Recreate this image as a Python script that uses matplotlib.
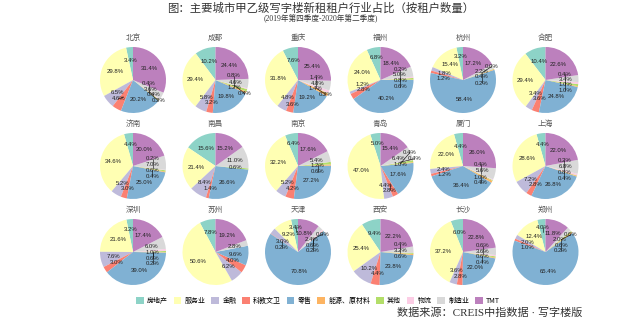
import numpy as np
import matplotlib
matplotlib.use("Agg")
import matplotlib.pyplot as plt
from matplotlib.patches import Patch

plt.rcParams['font.family'] = ['Liberation Sans', 'Noto Sans CJK SC', 'DejaVu Sans']

industries = ["房地产", "服务业", "金融", "科教文卫", "零售", "能源、原材料", "其他", "物流", "制造业", "TMT"]
colors = ["#8dd3c7", "#ffffb3", "#bebada", "#fb8072", "#80b1d3",
          "#fdb462", "#b3de69", "#fccde5", "#d9d9d9", "#bc80bd"]

cities = ["北京", "成都", "重庆", "福州", "杭州", "合肥",
          "济南", "南昌", "南京", "青岛", "厦门", "上海",
          "深圳", "苏州", "天津", "西安", "长沙", "郑州"]

# share of new tenants (%), order follows `industries`; None = no slice
beijing   = [3.4, 29.8, 6.5, 4.6, 20.2, 0.2, 0.4, 0.4, 3.6, 31.4]
chengdu   = [10.2, 29.4, 5.8, 3.2, 19.8, 0.8, 1.2, 0.4, 4.6, 24.4]
chongqing = [7.6, 31.8, 4.8, 3.6, 19.2, 1.4, 0.2, 1.4, 4.8, 25.4]
fuzhou    = [6.8, 24.0, 1.2, 2.8, 40.2, 0.2, 0.8, 0.6, 5.0, 18.4]
hangzhou  = [3.2, 15.4, 1.8, 1.2, 58.4, 0.4, 0.2, 0.0, 2.2, 17.2]
hefei     = [10.4, 29.4, 3.4, 3.6, 24.8, 0.4, 1.0, 1.0, 3.4, 22.6]
jinan     = [4.4, 34.6, 5.2, 3.0, 25.0, 0.4, 0.6, 0.2, 7.0, 20.0]
nanchang  = [15.6, 21.4, 8.4, 1.4, 26.6, None, 0.6, None, 11.0, 15.2]
nanjing   = [6.4, 32.2, 5.2, 4.2, 27.2, 0.6, 1.2, None, 5.4, 17.6]
qingdao   = [5.0, 47.0, 4.4, 2.8, 17.6, 0.4, 1.0, 0.4, 6.4, 15.4]
xiamen    = [4.4, 22.0, 2.4, 1.2, 36.4, 1.0, 0.4, 0.4, 5.6, 26.0]
shanghai  = [4.4, 28.6, 7.2, 2.8, 26.8, 0.4, 0.2, 0.8, 6.8, 22.0]
shenzhen  = [3.2, 21.6, 7.6, 3.0, 39.0, 0.2, 0.6, 1.0, 6.0, 17.4]
suzhou    = [7.8, 50.6, 6.2, 4.0, 9.6, None, None, None, 2.8, 19.2]
tianjin   = [3.4, 9.2, 3.0, 0.2, 70.8, 0.2, 0.0, 0.6, 2.4, 10.8]
xian      = [9.4, 25.4, 10.2, 4.4, 23.8, 0.6, 0.4, None, 3.2, 22.2]
changsha  = [6.0, 37.2, 3.6, 2.8, 22.0, 0.4, 0.6, 0.6, 3.6, 22.8]
zhengzhou = [4.0, 12.4, 2.0, 1.0, 65.4, 0.6, 0.6, 0.2, 2.0, 11.8]

shares = [beijing, chengdu, chongqing, fuzhou, hangzhou, hefei,
          jinan, nanchang, nanjing, qingdao, xiamen, shanghai,
          shenzhen, suzhou, tianjin, xian, changsha, zhengzhou]

W, H = 641, 320
fig = plt.figure(figsize=(W / 100, H / 100), dpi=100)

fig.text(0.5, 1 - 8 / H, "图：主要城市甲乙级写字楼新租租户行业占比（按租户数量）",
         ha="center", va="center", fontsize=8.2, color="#333333",
         family=["Noto Sans CJK SC"])
fig.text(0.5, 1 - 19 / H, "(2019年第四季度-2020年第二季度)",
         ha="center", va="center", fontsize=5.5, color="#333333",
         family=["Liberation Serif", "Noto Sans CJK SC"])

r = 33
x0, dx = 133, 82.5
y0, dy = 80, 86

# candidate offsets for pushing crowded labels apart
cand = [(ddx, ddy) for ddx in np.arange(-0.45, 0.46, 0.15)
        for ddy in np.arange(-0.9, 0.91, 0.05)]
cand.sort(key=lambda c: c[0] ** 2 + c[1] ** 2)
bw, bh = 0.48, 0.15


def place_labels(ax, wedges, vals):
    items = []
    for w, v in zip(wedges, vals):
        if v is None:
            continue
        ang = np.deg2rad((w.theta1 + w.theta2) / 2)
        items.append((v, 0.6 * np.cos(ang), 0.6 * np.sin(ang)))
    items.sort(key=lambda t: -t[0])
    placed = []
    for v, ox, oy in items:
        x, y = ox, oy
        for ddx, ddy in cand:
            tx, ty = ox + ddx, oy + ddy
            if all(abs(px - tx) >= bw or abs(py - ty) >= bh for px, py in placed):
                x, y = tx, ty
                break
        placed.append((x, y))
        if (x - ox) ** 2 + (y - oy) ** 2 > 0.15 ** 2:
            ax.plot([ox, x], [oy, y], color="black", lw=0.4)
        ax.text(x, y, f"{v:.1f}%", ha="center", va="center",
                fontsize=4.3, color="#222222")


for i, (city, vals) in enumerate(zip(cities, shares)):
    row, col = divmod(i, 6)
    cx = x0 + col * dx
    cy = y0 + row * dy
    ax = fig.add_axes([(cx - r) / W, 1 - (cy + r) / H, 2 * r / W, 2 * r / H])
    sizes = [v if v is not None else 0 for v in vals]
    wedges, _ = ax.pie(sizes, colors=colors, startangle=90, counterclock=True,
                       radius=1, wedgeprops=dict(linewidth=0))
    place_labels(ax, wedges, vals)
    ax.set_xlim(-1, 1)
    ax.set_ylim(-1, 1)
    ax.set_aspect("equal")
    ax.axis("off")
    fig.text(cx / W, 1 - (cy - r - 9) / H, city, ha="center", va="center",
             fontsize=5.5, color="#555555", family=["Noto Sans CJK SC"])

handles = [Patch(facecolor=c, edgecolor="none") for c in colors]
fig.legend(handles, industries, loc="center", bbox_to_anchor=(318 / W, 1 - 301 / H),
           ncol=10, frameon=False, handlelength=1.1, handleheight=1.1,
           handletextpad=0.5, columnspacing=0.8, borderpad=0,
           prop={"family": ["Noto Sans CJK SC"], "size": 5})

fig.text(397 / W, 1 - 313 / H, "数据来源：CREIS中指数据 · 写字楼版", ha="left", va="center",
         fontsize=8, color="#333333", family=["Liberation Serif", "Noto Sans CJK SC"])

fig.savefig("out.png", dpi=100)
